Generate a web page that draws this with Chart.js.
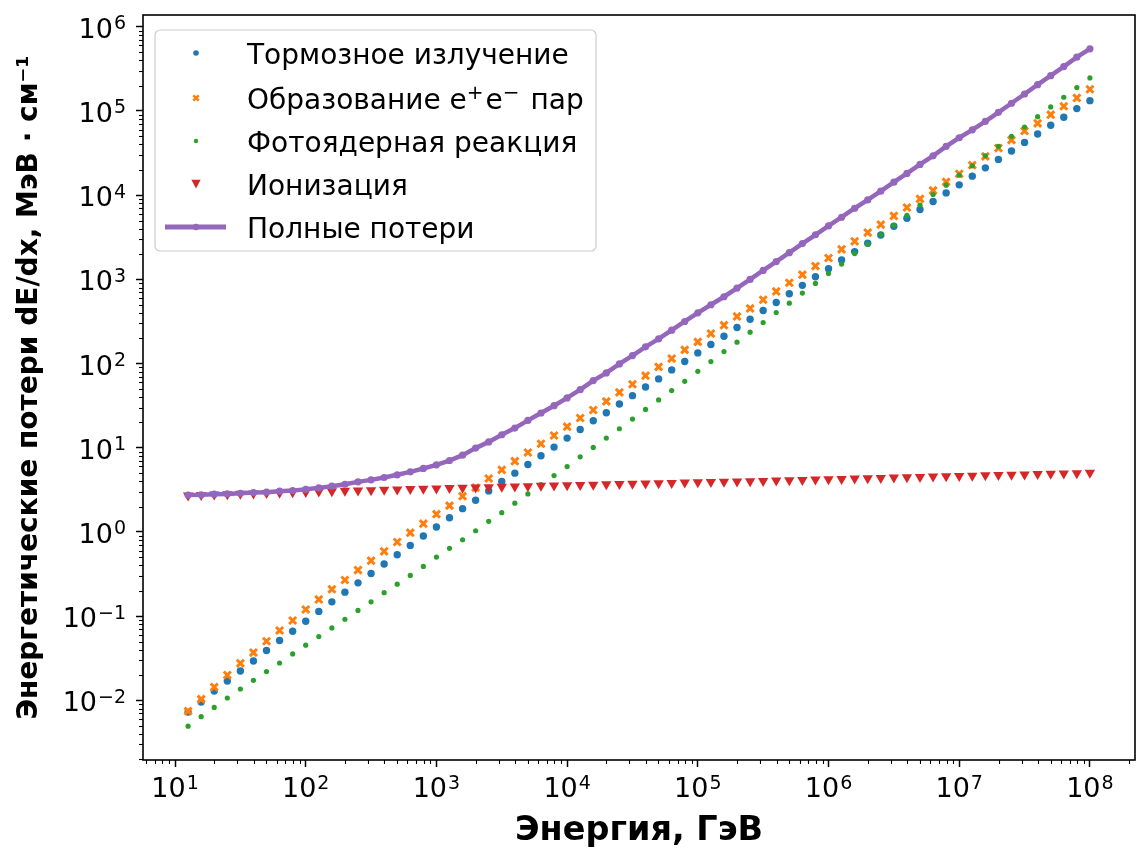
<!DOCTYPE html>
<html>
<head>
<meta charset="utf-8">
<script src="https://cdn.jsdelivr.net/npm/chart.js@4.4.1/dist/chart.umd.min.js"></script>
<style>
  html, body { margin: 0; padding: 0; background: #fff; }
  #wrap { width: 1143px; height: 855px; }
</style>
</head>
<body>
<div id="wrap"><canvas id="chart" width="1143" height="855"></canvas></div>
<script>
// энергия мюона, ГэВ (10 точек на декаду)
const energy = [
  12.59, 15.85, 19.95, 25.12, 31.62, 39.81, 50.12, 63.10, 79.43, 100,
  125.9, 158.5, 199.5, 251.2, 316.2, 398.1, 501.2, 631.0, 794.3, 1000,
  1259, 1585, 1995, 2512, 3162, 3981, 5012, 6310, 7943, 1e4,
  1.259e4, 1.585e4, 1.995e4, 2.512e4, 3.162e4, 3.981e4, 5.012e4, 6.310e4, 7.943e4, 1e5,
  1.259e5, 1.585e5, 1.995e5, 2.512e5, 3.162e5, 3.981e5, 5.012e5, 6.310e5, 7.943e5, 1e6,
  1.259e6, 1.585e6, 1.995e6, 2.512e6, 3.162e6, 3.981e6, 5.012e6, 6.310e6, 7.943e6, 1e7,
  1.259e7, 1.585e7, 1.995e7, 2.512e7, 3.162e7, 3.981e7, 5.012e7, 6.310e7, 7.943e7, 1e8
];

// потери, МэВ/см
const brems = [
  0.00726, 0.00955, 0.0129, 0.0170, 0.0223, 0.0294, 0.0391, 0.0514, 0.0662, 0.0871,
  0.114, 0.148, 0.193, 0.249, 0.322, 0.416, 0.537, 0.693, 0.895, 1.148,
  1.479, 1.892, 2.382, 3.076, 3.972, 5.00, 6.32, 8.04, 10.19, 13.03,
  16.52, 20.94, 26.12, 33.1, 41.6, 52.8, 65.8, 84.1, 105.7, 134.0,
  168.3, 211.3, 268.5, 336.5, 427.6, 532.1, 676.1, 849.2, 1076, 1340,
  1698, 2138, 2685, 3365, 4276, 5321, 6761, 8414, 10640, 13270,
  16830, 21130, 26610, 33420, 42360, 53210, 67610, 84140, 106700, 132700
];
const pairs = [
  0.00746, 0.01035, 0.01439, 0.0200, 0.02754, 0.0370, 0.0504, 0.0676, 0.0889, 0.120,
  0.158, 0.209, 0.269, 0.353, 0.456, 0.589, 0.760, 0.982, 1.256, 1.626,
  2.056, 2.661, 3.365, 4.315, 5.47, 6.93, 8.79, 11.17, 14.0, 17.8,
  22.6, 28.1, 35.6, 45.5, 56.8, 71.9, 91.4, 114.8, 145.5, 181.1,
  227.5, 285.8, 363, 452, 573, 719, 912, 1138, 1439, 1795,
  2275, 2831, 3597, 4477, 5675, 7145, 9036, 11380, 14390, 17950,
  22750, 28910, 36310, 45190, 57810, 71450, 90360, 113800, 142900, 181100
];
const photonuclear = [
  0.00494, 0.00640, 0.00826, 0.01067, 0.01365, 0.0173, 0.0220, 0.0278, 0.0356, 0.0452,
  0.0573, 0.0726, 0.0920, 0.117, 0.148, 0.190, 0.240, 0.305, 0.390, 0.504,
  0.640, 0.809, 1.035, 1.340, 1.698, 2.198, 2.831, 3.648, 4.677, 5.984,
  7.816, 10.09, 13.03, 16.83, 21.93, 28.58, 36.98, 47.75, 61.52, 80.91,
  105.7, 139.0, 179.5, 236.0, 307.6, 404.6, 522.4, 687.1, 895.4, 1178,
  1521, 2023, 2630, 3404, 4395, 5781, 7603, 10190, 13150, 17300,
  22340, 29380, 38020, 50000, 64570, 85510, 111700, 145500, 189700, 247200
];
const ionization = [
  2.72, 2.75, 2.78, 2.81, 2.84, 2.87, 2.90, 2.93, 2.96, 2.99,
  3.02, 3.05, 3.08, 3.11, 3.14, 3.17, 3.20, 3.23, 3.26, 3.29,
  3.32, 3.35, 3.38, 3.41, 3.44, 3.47, 3.50, 3.53, 3.56, 3.59,
  3.62, 3.65, 3.68, 3.71, 3.74, 3.77, 3.80, 3.83, 3.86, 3.89,
  3.92, 3.95, 3.98, 4.01, 4.04, 4.08, 4.11, 4.15, 4.19, 4.23,
  4.27, 4.31, 4.35, 4.39, 4.43, 4.47, 4.51, 4.55, 4.59, 4.63,
  4.67, 4.71, 4.75, 4.79, 4.83, 4.87, 4.91, 4.95, 5.00, 5.05
];
const total = [
  2.75, 2.76, 2.81, 2.83, 2.88, 2.94, 2.97, 3.05, 3.10, 3.22,
  3.34, 3.50, 3.69, 3.94, 4.16, 4.44, 4.78, 5.18, 5.68, 6.28,
  7.06, 8.18, 9.91, 11.75, 14.29, 17.14, 21.13, 25.88, 31.62, 39.08,
  48.98, 62.81, 77.45, 99.08, 124.5, 158.1, 196.8, 249.5, 316.2, 400.9,
  500.0, 622.3, 788.9, 1000, 1279, 1626, 2075, 2661, 3388, 4315,
  5470, 6998, 8790, 11170, 14290, 18110, 23170, 29380, 38020, 48080,
  59700, 75340, 96380, 123600, 159200, 205600, 263000, 337300, 435500, 547000
];

const names = ['Тормозное излучение', 'Образование e⁺e⁻ пар', 'Фотоядерная реакция', 'Ионизация', 'Полные потери'];
const colors = ['#1f77b4', '#ff7f0e', '#2ca02c', '#d62728', '#9467bd'];

const FONT = "'DejaVu Sans', sans-serif";

function pts(ys) {
  return energy.map((e, i) => ({ x: e, y: ys[i] }));
}

function isDecade(v) {
  const l = Math.log10(v);
  return Math.abs(l - Math.round(l)) < 1e-6;
}

// деления 1..9 * 10^n внутри диапазона оси
function logTicks(scale) {
  const out = [];
  const lo = Math.floor(Math.log10(scale.min));
  const hi = Math.ceil(Math.log10(scale.max));
  for (let e = lo; e <= hi; e++) {
    for (let m = 1; m < 10; m++) {
      const v = m * Math.pow(10, e);
      if (v >= scale.min && v <= scale.max) out.push({ value: v });
    }
  }
  scale.ticks = out;
}

// подпись вида 10^n: основание и показатель меньшим кеглем
const BASE_PX = 27, SUP_PX = 19;
function powWidth(ctx, exp) {
  ctx.font = BASE_PX + 'px ' + FONT;
  const wb = ctx.measureText('10').width;
  ctx.font = SUP_PX + 'px ' + FONT;
  const ws = ctx.measureText(exp).width;
  return { wb, ws, w: wb + 1 + ws };
}
function drawPow(ctx, exp, x, baseY) {
  const m = powWidth(ctx, exp);
  ctx.font = BASE_PX + 'px ' + FONT;
  ctx.fillText('10', x, baseY);
  ctx.font = SUP_PX + 'px ' + FONT;
  ctx.fillText(exp, x + m.wb + 1, baseY - 8.5);
  return m.w;
}
function expText(v) {
  const e = Math.round(Math.log10(v));
  return e < 0 ? '\u2212' + (-e) : String(e);
}

// рамка, малые деления, подписи делений и легенда
const decor = {
  id: 'decor',
  afterDraw(chart) {
    const ctx = chart.ctx;
    const a = chart.chartArea;
    const sx = chart.scales.x, sy = chart.scales.y;
    ctx.save();
    ctx.strokeStyle = '#000';
    ctx.lineWidth = 1.1;
    sx.ticks.forEach(t => {
      if (isDecade(t.value)) return;
      const px = Math.round(sx.getPixelForValue(t.value)) + 0.5;
      ctx.beginPath(); ctx.moveTo(px, a.bottom); ctx.lineTo(px, a.bottom + 4); ctx.stroke();
    });
    sy.ticks.forEach(t => {
      if (isDecade(t.value)) return;
      const py = Math.round(sy.getPixelForValue(t.value)) + 0.5;
      ctx.beginPath(); ctx.moveTo(a.left, py); ctx.lineTo(a.left - 4, py); ctx.stroke();
    });
    ctx.lineWidth = 1.6;
    ctx.strokeRect(a.left, a.top, a.right - a.left, a.bottom - a.top);

    ctx.fillStyle = '#000';
    ctx.textBaseline = 'alphabetic';
    ctx.textAlign = 'left';
    sx.ticks.forEach(t => {
      if (!isDecade(t.value)) return;
      const px = sx.getPixelForValue(t.value);
      const e = expText(t.value);
      const m = powWidth(ctx, e);
      drawPow(ctx, e, px - m.w / 2, a.bottom + 37);
    });
    sy.ticks.forEach(t => {
      if (!isDecade(t.value)) return;
      const py = sy.getPixelForValue(t.value);
      const e = expText(t.value);
      const m = powWidth(ctx, e);
      drawPow(ctx, e, a.left - 17 - m.w, py + 11);
    });

    // легенда
    const box = { x: 155, y: 30, w: 441, h: 221 };
    ctx.beginPath();
    ctx.roundRect(box.x, box.y, box.w, box.h, 5);
    ctx.fillStyle = 'rgba(255,255,255,0.8)';
    ctx.fill();
    ctx.strokeStyle = '#cccccc';
    ctx.lineWidth = 1.2;
    ctx.stroke();

    const rows = [53, 98, 141, 184, 227];
    const mx = 196;
    names.forEach((name, i) => {
      const y = rows[i];
      ctx.fillStyle = colors[i];
      ctx.strokeStyle = colors[i];
      if (i === 0) {
        ctx.beginPath(); ctx.arc(mx, y, 2.8, 0, Math.PI * 2); ctx.fill();
      } else if (i === 1) {
        ctx.lineWidth = 2.5;
        ctx.beginPath();
        ctx.moveTo(mx - 2.7, y - 2.7); ctx.lineTo(mx + 2.7, y + 2.7);
        ctx.moveTo(mx - 2.7, y + 2.7); ctx.lineTo(mx + 2.7, y - 2.7);
        ctx.stroke();
      } else if (i === 2) {
        ctx.beginPath(); ctx.arc(mx, y, 2.2, 0, Math.PI * 2); ctx.fill();
      } else if (i === 3) {
        ctx.beginPath();
        ctx.moveTo(mx - 4.6, y - 4.2); ctx.lineTo(mx + 4.6, y - 4.2); ctx.lineTo(mx, y + 4.6);
        ctx.closePath(); ctx.fill();
      } else {
        ctx.lineWidth = 5;
        ctx.beginPath(); ctx.moveTo(165, y); ctx.lineTo(226, y); ctx.stroke();
        ctx.beginPath(); ctx.arc(mx, y, 3.2, 0, Math.PI * 2); ctx.fill();
      }
      ctx.fillStyle = '#000';
      const base = y + 11;
      if (i === 1) {
        // e^+ e^- с надстрочными знаками
        let x = 247;
        const parts = [['Образование e', 0], ['+', 1], ['e', 0], ['\u2212', 1], [' пар', 0]];
        parts.forEach(([s, sup]) => {
          ctx.font = (sup ? '20px ' : '28px ') + FONT;
          ctx.fillText(s, x, sup ? base - 10 : base);
          x += ctx.measureText(s).width + (sup ? 2 : 0);
        });
      } else {
        ctx.font = '28px ' + FONT;
        ctx.fillText(name, 247, base);
      }
    });
    ctx.restore();
  }
};

const ctx = document.getElementById('chart').getContext('2d');
new Chart(ctx, {
  type: 'scatter',
  data: {
    datasets: [
      { label: names[0], data: pts(brems), backgroundColor: colors[0], pointStyle: 'circle',
        pointRadius: 3.7, pointBorderWidth: 0, order: 4 },
      { label: names[1], data: pts(pairs), borderColor: colors[1], backgroundColor: colors[1], pointStyle: 'crossRot',
        pointRadius: 5, pointBorderWidth: 3, order: 3 },
      { label: names[2], data: pts(photonuclear), backgroundColor: colors[2], pointStyle: 'circle',
        pointRadius: 2.6, pointBorderWidth: 0, order: 2 },
      { label: names[3], data: pts(ionization), backgroundColor: colors[3], pointStyle: 'triangle',
        rotation: 180, pointRadius: 6, pointBorderWidth: 0, order: 1 },
      { label: names[4], data: pts(total), showLine: true, borderColor: colors[4], backgroundColor: colors[4],
        borderWidth: 4.5, pointStyle: 'circle', pointRadius: 3.6, pointBorderWidth: 0, order: 0 }
    ]
  },
  options: {
    responsive: false,
    animation: false,
    devicePixelRatio: 1,
    layout: { padding: { top: 15, right: -1, left: 0, bottom: 0 } },
    plugins: { legend: { display: false }, tooltip: { enabled: false } },
    scales: {
      x: {
        type: 'logarithmic',
        position: 'bottom',
        min: Math.pow(10, 0.755),
        max: Math.pow(10, 8.345),
        afterBuildTicks: logTicks,
        afterFit(s) { s.height = 95; s.paddingLeft = 0; s.paddingRight = 0; },
        border: { display: false },
        grid: {
          drawOnChartArea: false, tickLength: 7, tickWidth: 1.5,
          tickColor: c => (c.tick && isDecade(c.tick.value)) ? '#000' : 'rgba(0,0,0,0)'
        },
        ticks: { autoSkip: false, maxRotation: 0, minRotation: 0, callback: () => '' },
        title: {
          display: true, text: 'Энергия, ГэВ', color: '#000',
          font: { family: FONT, size: 33.5, weight: 'bold' },
          padding: { top: 0, bottom: 4 }
        }
      },
      y: {
        type: 'logarithmic',
        position: 'left',
        min: Math.pow(10, -2.708),
        max: Math.pow(10, 6.14),
        afterBuildTicks: logTicks,
        afterFit(s) { s.width = 143; s.paddingTop = 0; s.paddingBottom = 0; },
        border: { display: false },
        grid: {
          drawOnChartArea: false, tickLength: 7, tickWidth: 1.5,
          tickColor: c => (c.tick && isDecade(c.tick.value)) ? '#000' : 'rgba(0,0,0,0)'
        },
        ticks: { autoSkip: false, callback: () => '' },
        title: {
          display: true, text: 'Энергетические потери dE/dx, МэВ · см⁻¹', color: '#000',
          font: { family: FONT, size: 28, weight: 'bold' },
          padding: { top: 13, bottom: 0 }
        }
      }
    }
  },
  plugins: [decor]
});
</script>
</body>
</html>
